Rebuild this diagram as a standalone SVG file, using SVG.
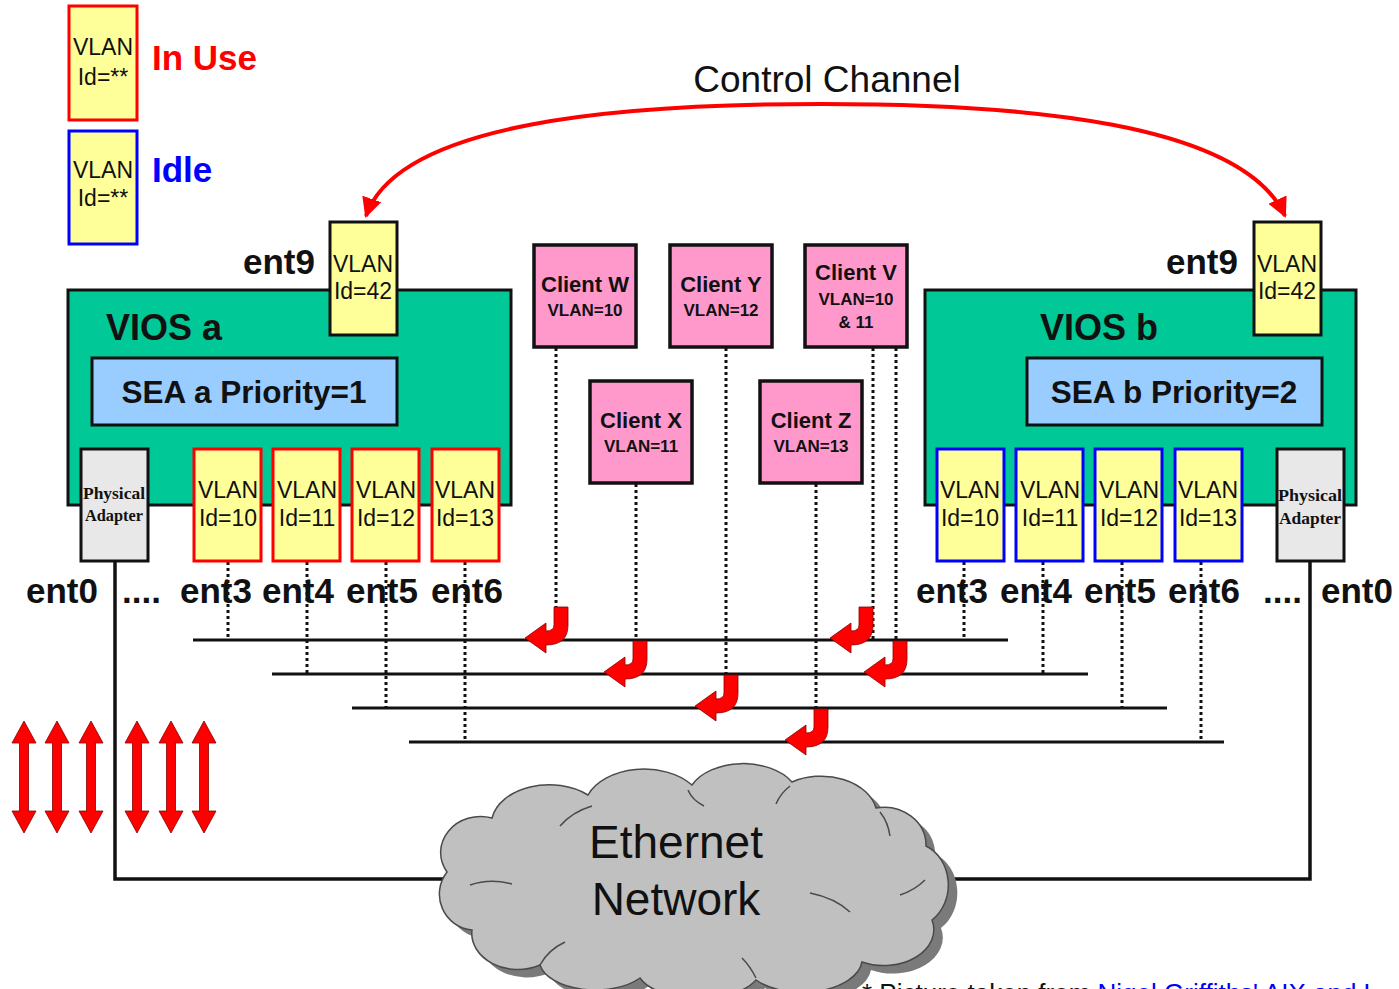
<svg xmlns="http://www.w3.org/2000/svg" xmlns:xlink="http://www.w3.org/1999/xlink" width="1399" height="989" viewBox="0 0 1399 989">
  <style>
    .sans { font-family: "Liberation Sans", Arial, sans-serif; fill: #111; }
    .bold { font-weight: bold; }
    .serif { font-family: "Liberation Serif", "Times New Roman", serif; font-weight: bold; fill: #111; }
    .vlan { fill: #FFFF99; stroke-width: 3; }
    .inuse { stroke: #FF0000; }
    .idle { stroke: #0000FF; }
    .plain { stroke: #111; }
    .vios { fill: #00C896; stroke: #111; stroke-width: 3; }
    .sea { fill: #99CCFF; stroke: #111; stroke-width: 3; }
    .phys { fill: #E8E8E8; stroke: #111; stroke-width: 3; }
    .client { fill: #FF99CC; stroke: #111; stroke-width: 3.5; }
    .vt { font-size: 23px; text-anchor: middle; }
    .ent { font-size: 35px; font-weight: bold; }
    .bus { stroke: #111; stroke-width: 3; fill: none; }
    .dot { stroke: #111; stroke-width: 3; stroke-dasharray: 3 3; fill: none; }
    .wire { stroke: #111; stroke-width: 3.5; fill: none; }
    .redarrow { fill: #FF0000; stroke: #8a0000; stroke-width: 0.8; }
  </style>
  <defs>
    <marker id="cc" viewBox="0 0 10 10" refX="9" refY="5" markerWidth="5" markerHeight="5" orient="auto-start-reverse" markerUnits="strokeWidth">
      <path d="M0,0 L10,5 L0,10 Z" fill="#FF0000"/>
    </marker>
    <!-- hooked arrow: stem top-right corner at origin, turns left onto a bus -->
    <path id="hook" d="M0,0 L0,18 Q0,38 -22,38 L-22,46 L-43,31 L-22,16 L-22,24 Q-14,24 -14,18 L-14,0 Z"/>
    <!-- vertical double-headed arrow, centred on x=0 -->
    <path id="dbl" d="M0,0 L12,22 L4.5,22 L4.5,90 L12,90 L0,112 L-12,90 L-4.5,90 L-4.5,22 L-12,22 Z"/>
    <path id="cloud" d="M447,872 A40,36 0 0 1 492,818 A58,40 0 0 1 588,795 A60,40 0 0 1 692,785 A56,36 0 0 1 792,782 A56,40 0 0 1 876,808 A42,38 0 0 1 926,846 A36,42 0 0 1 932,920 A50,36 0 0 1 862,962 A60,34 0 0 1 756,980 A62,30 0 0 1 640,978 A56,30 0 0 1 540,965 A46,36 0 0 1 472,930 A36,36 0 0 1 447,872 Z"/>
  </defs>

  <rect x="0" y="0" width="1399" height="989" fill="#FFFFFF"/>

  <!-- legend -->
  <g id="legend">
    <rect class="vlan inuse" x="69" y="6" width="68" height="114"/>
    <text class="sans vt" x="103" y="55">VLAN</text>
    <text class="sans vt" x="103" y="85">Id=**</text>
    <text class="sans bold" x="152" y="70" font-size="35" style="fill:#FF0000">In Use</text>
    <rect class="vlan idle" x="69" y="131" width="68" height="113"/>
    <text class="sans vt" x="103" y="178">VLAN</text>
    <text class="sans vt" x="103" y="206">Id=**</text>
    <text class="sans bold" x="152" y="182" font-size="35" style="fill:#0000FF">Idle</text>
  </g>

  <!-- connectors -->
  <g id="connectors">
    <!-- control channel between the two ent9 adapters -->
    <path d="M366,216 C398,122 620,104 822,104 C1022,104 1242,122 1285,216" fill="none" stroke="#FF0000" stroke-width="4" marker-start="url(#cc)" marker-end="url(#cc)"/>
    <text class="sans" x="827" y="92" font-size="37" text-anchor="middle">Control Channel</text>

    <!-- VLAN buses -->
    <line class="bus" x1="193" y1="640" x2="1008" y2="640"/>
    <line class="bus" x1="272" y1="674" x2="1088" y2="674"/>
    <line class="bus" x1="352" y1="708" x2="1167" y2="708"/>
    <line class="bus" x1="409" y1="742" x2="1224" y2="742"/>

    <!-- VIOS a trunk adapters to buses -->
    <line class="dot" x1="228" y1="562" x2="228" y2="640"/>
    <line class="dot" x1="307" y1="562" x2="307" y2="674"/>
    <line class="dot" x1="386" y1="562" x2="386" y2="708"/>
    <line class="dot" x1="465" y1="562" x2="465" y2="742"/>

    <!-- VIOS b trunk adapters to buses -->
    <line class="dot" x1="964" y1="562" x2="964" y2="640"/>
    <line class="dot" x1="1043" y1="562" x2="1043" y2="674"/>
    <line class="dot" x1="1122" y1="562" x2="1122" y2="708"/>
    <line class="dot" x1="1201" y1="562" x2="1201" y2="742"/>

    <!-- clients to buses -->
    <line class="dot" x1="556" y1="348" x2="556" y2="608"/>
    <line class="dot" x1="636" y1="484" x2="636" y2="642"/>
    <line class="dot" x1="726" y1="348" x2="726" y2="676"/>
    <line class="dot" x1="816" y1="484" x2="816" y2="710"/>
    <line class="dot" x1="873" y1="348" x2="873" y2="640"/>
    <line class="dot" x1="896" y1="348" x2="896" y2="642"/>

    <use href="#hook" class="redarrow" x="568" y="607"/>
    <use href="#hook" class="redarrow" x="647" y="641"/>
    <use href="#hook" class="redarrow" x="738" y="675"/>
    <use href="#hook" class="redarrow" x="828" y="709"/>
    <use href="#hook" class="redarrow" x="873" y="607"/>
    <use href="#hook" class="redarrow" x="907" y="641"/>

    <!-- physical links to the network -->
    <polyline class="wire" points="115,561 115,879 450,879"/>
    <polyline class="wire" points="1310,561 1310,879 935,879"/>

    <!-- traffic arrows -->
    <use href="#dbl" class="redarrow" x="24" y="721"/>
    <use href="#dbl" class="redarrow" x="57" y="721"/>
    <use href="#dbl" class="redarrow" x="91" y="721"/>
    <use href="#dbl" class="redarrow" x="137" y="721"/>
    <use href="#dbl" class="redarrow" x="171" y="721"/>
    <use href="#dbl" class="redarrow" x="204" y="721"/>
  </g>

  <!-- VIOS a -->
  <g id="vios-a">
    <rect class="vios" x="68" y="290" width="443" height="215"/>
    <text class="sans bold" x="106" y="340" font-size="36">VIOS a</text>
    <rect class="sea" x="92" y="358" width="305" height="67"/>
    <text class="sans bold" x="244" y="403" font-size="31.5" text-anchor="middle">SEA a Priority=1</text>
  </g>
  <g id="vios-a-ent9">
    <rect class="vlan plain" x="330" y="222" width="67" height="113"/>
    <text class="sans vt" x="363" y="272">VLAN</text>
    <text class="sans vt" x="363" y="299">Id=42</text>
    <text class="sans ent" x="243" y="274">ent9</text>
  </g>
  <g id="vios-a-phys">
    <rect class="phys" x="81" y="449" width="67" height="112"/>
    <text class="serif" x="114" y="499" font-size="16" text-anchor="middle" textLength="62" lengthAdjust="spacingAndGlyphs">Physical</text>
    <text class="serif" x="114" y="521" font-size="16" text-anchor="middle" textLength="58" lengthAdjust="spacingAndGlyphs">Adapter</text>
  </g>
  <g id="vios-a-ent3">
    <rect class="vlan inuse" x="194" y="449" width="67" height="112"/>
    <text class="sans vt" x="228" y="498">VLAN</text>
    <text class="sans vt" x="228" y="526">Id=10</text>
  </g>
  <g id="vios-a-ent4">
    <rect class="vlan inuse" x="273" y="449" width="67" height="112"/>
    <text class="sans vt" x="307" y="498">VLAN</text>
    <text class="sans vt" x="307" y="526">Id=11</text>
  </g>
  <g id="vios-a-ent5">
    <rect class="vlan inuse" x="352" y="449" width="67" height="112"/>
    <text class="sans vt" x="386" y="498">VLAN</text>
    <text class="sans vt" x="386" y="526">Id=12</text>
  </g>
  <g id="vios-a-ent6">
    <rect class="vlan inuse" x="432" y="449" width="67" height="112"/>
    <text class="sans vt" x="465" y="498">VLAN</text>
    <text class="sans vt" x="465" y="526">Id=13</text>
  </g>
  <g id="vios-a-labels">
    <text class="sans ent" x="26" y="603">ent0</text>
    <text class="sans ent" x="122" y="603">....</text>
    <text class="sans ent" x="180" y="603">ent3</text>
    <text class="sans ent" x="262" y="603">ent4</text>
    <text class="sans ent" x="346" y="603">ent5</text>
    <text class="sans ent" x="431" y="603">ent6</text>
  </g>

  <!-- VIOS b -->
  <g id="vios-b">
    <rect class="vios" x="925" y="290" width="431" height="215"/>
    <text class="sans bold" x="1040" y="340" font-size="36">VIOS b</text>
    <rect class="sea" x="1027" y="358" width="295" height="67"/>
    <text class="sans bold" x="1174" y="403" font-size="31.5" text-anchor="middle">SEA b Priority=2</text>
  </g>
  <g id="vios-b-ent9">
    <rect class="vlan plain" x="1254" y="222" width="67" height="113"/>
    <text class="sans vt" x="1287" y="272">VLAN</text>
    <text class="sans vt" x="1287" y="299">Id=42</text>
    <text class="sans ent" x="1166" y="274">ent9</text>
  </g>
  <g id="vios-b-ent3">
    <rect class="vlan idle" x="937" y="449" width="67" height="112"/>
    <text class="sans vt" x="970" y="498">VLAN</text>
    <text class="sans vt" x="970" y="526">Id=10</text>
  </g>
  <g id="vios-b-ent4">
    <rect class="vlan idle" x="1016" y="449" width="67" height="112"/>
    <text class="sans vt" x="1050" y="498">VLAN</text>
    <text class="sans vt" x="1050" y="526">Id=11</text>
  </g>
  <g id="vios-b-ent5">
    <rect class="vlan idle" x="1095" y="449" width="67" height="112"/>
    <text class="sans vt" x="1129" y="498">VLAN</text>
    <text class="sans vt" x="1129" y="526">Id=12</text>
  </g>
  <g id="vios-b-ent6">
    <rect class="vlan idle" x="1175" y="449" width="67" height="112"/>
    <text class="sans vt" x="1208" y="498">VLAN</text>
    <text class="sans vt" x="1208" y="526">Id=13</text>
  </g>
  <g id="vios-b-phys">
    <rect class="phys" x="1277" y="449" width="67" height="112"/>
    <text class="serif" x="1310" y="501" font-size="16" text-anchor="middle" textLength="64" lengthAdjust="spacingAndGlyphs">Physical</text>
    <text class="serif" x="1310" y="524" font-size="16" text-anchor="middle" textLength="62" lengthAdjust="spacingAndGlyphs">Adapter</text>
  </g>
  <g id="vios-b-labels">
    <text class="sans ent" x="916" y="603">ent3</text>
    <text class="sans ent" x="1000" y="603">ent4</text>
    <text class="sans ent" x="1084" y="603">ent5</text>
    <text class="sans ent" x="1168" y="603">ent6</text>
    <text class="sans ent" x="1263" y="603">....</text>
    <text class="sans ent" x="1321" y="603">ent0</text>
  </g>

  <!-- client partitions -->
  <g id="client-w">
    <rect class="client" x="534" y="245" width="102" height="102"/>
    <text class="sans bold" x="585" y="292" font-size="22" text-anchor="middle">Client W</text>
    <text class="sans bold" x="585" y="316" font-size="17" text-anchor="middle">VLAN=10</text>
  </g>
  <g id="client-y">
    <rect class="client" x="670" y="245" width="102" height="102"/>
    <text class="sans bold" x="721" y="292" font-size="22" text-anchor="middle">Client Y</text>
    <text class="sans bold" x="721" y="316" font-size="17" text-anchor="middle">VLAN=12</text>
  </g>
  <g id="client-v">
    <rect class="client" x="805" y="245" width="102" height="102"/>
    <text class="sans bold" x="856" y="280" font-size="22" text-anchor="middle">Client V</text>
    <text class="sans bold" x="856" y="305" font-size="17" text-anchor="middle">VLAN=10</text>
    <text class="sans bold" x="856" y="328" font-size="17" text-anchor="middle">&amp; 11</text>
  </g>
  <g id="client-x">
    <rect class="client" x="590" y="381" width="102" height="102"/>
    <text class="sans bold" x="641" y="428" font-size="22" text-anchor="middle">Client X</text>
    <text class="sans bold" x="641" y="452" font-size="17" text-anchor="middle">VLAN=11</text>
  </g>
  <g id="client-z">
    <rect class="client" x="760" y="381" width="102" height="102"/>
    <text class="sans bold" x="811" y="428" font-size="22" text-anchor="middle">Client Z</text>
    <text class="sans bold" x="811" y="452" font-size="17" text-anchor="middle">VLAN=13</text>
  </g>

  <!-- external network -->
  <g id="ethernet">
    <use href="#cloud" x="9" y="8" fill="#7a7a7a"/>
    <use href="#cloud" fill="#C0C0C0" stroke="#4a4a4a" stroke-width="1.5"/>
    <g fill="none" stroke="#4a4a4a" stroke-width="1.5">
      <path d="M470,885 Q490,878 512,884"/>
      <path d="M560,826 Q572,812 592,806"/>
      <path d="M688,790 Q692,800 704,806"/>
      <path d="M790,786 Q780,794 776,804"/>
      <path d="M880,812 Q888,822 890,836"/>
      <path d="M925,880 Q915,890 900,895"/>
      <path d="M810,893 Q835,898 850,912"/>
      <path d="M540,965 Q548,950 565,942"/>
      <path d="M756,978 Q750,966 742,958"/>
    </g>
    <text class="sans" x="676" y="858" font-size="46" text-anchor="middle">Ethernet</text>
    <text class="sans" x="676" y="915" font-size="46" text-anchor="middle">Network</text>
  </g>

  <!-- credit line -->
  <text class="sans" x="862" y="1002" font-size="26">* Picture taken from <tspan style="fill:#0000FF">Nigel Griffiths' AIX and L</tspan></text>
</svg>
